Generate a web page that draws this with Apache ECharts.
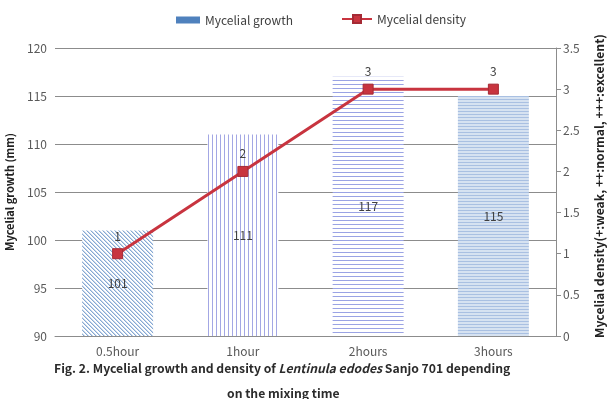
<!DOCTYPE html>
<html>
<head>
<meta charset="utf-8">
<script src="https://cdn.jsdelivr.net/npm/echarts@6/dist/echarts.min.js"></script>
<style>
  html, body { margin: 0; padding: 0; background: #fff; }
  #chart { width: 608px; height: 399px; }
</style>
</head>
<body>
<div id="chart"></div>
<script>
// Mixing time categories and measured values
const categories = ['0.5hour', '1hour', '2hours', '3hours'];
const growthValues = [101, 111, 117, 115];
const densityValues = [1, 2, 3, 3];
const growthTicks = { min: 90, max: 120, interval: 5 };
const densityTicks = { min: 0, max: 3.5, interval: 0.5 };

const FONT = '"Noto Sans CJK KR", "Noto Sans", sans-serif';

// Small repeating tiles used as bar fills
function tile(w, h, bg, draw) {
  const c = document.createElement('canvas');
  c.width = w; c.height = h;
  const ctx = c.getContext('2d');
  ctx.fillStyle = bg;
  ctx.fillRect(0, 0, w, h);
  draw(ctx);
  return { image: c, repeat: 'repeat' };
}

const diagonalFill = tile(4, 4, '#ffffff', ctx => {
  for (let i = 0; i < 4; i++) {
    ctx.fillStyle = '#86A8D2';
    ctx.fillRect(i, i, 1, 1);
    ctx.fillStyle = '#C8D8EC';
    ctx.fillRect((i + 1) % 4, i, 1, 1);
  }
});
const verticalFill = tile(4, 4, '#ffffff', ctx => {
  ctx.fillStyle = '#A3A7E4';
  ctx.fillRect(0, 0, 1, 4);
});
const horizontalFill = tile(4, 4, '#ffffff', ctx => {
  ctx.fillStyle = '#9AA3E4';
  ctx.fillRect(0, 0, 4, 1);
});
const denseFill = tile(4, 3, '#D6E2F1', ctx => {
  ctx.fillStyle = '#A9C0E2';
  ctx.fillRect(0, 0, 4, 1);
});
const barFills = [diagonalFill, verticalFill, horizontalFill, denseFill];

const chart = echarts.init(document.getElementById('chart'), null, { renderer: 'canvas' });

const captionStyle = { fontFamily: FONT, fontWeight: 'bold', fontSize: 12.2, color: '#2b2b2b' };

chart.setOption({
  animation: false,
  textStyle: { fontFamily: FONT },
  title: [
    {
      left: 49,
      top: 357,
      text: '{b|Fig. 2. Mycelial growth and density of }{i|Lentinula edodes}{b| Sanjo 701 depending}',
      textStyle: {
        rich: {
          b: captionStyle,
          i: Object.assign({}, captionStyle, { fontStyle: 'italic' })
        }
      }
    },
    {
      left: 222,
      top: 382,
      text: 'on the mixing time',
      textStyle: captionStyle
    }
  ],
  legend: [
    {
      left: 171, top: 9,
      itemWidth: 24, itemHeight: 7,
      textStyle: { fontSize: 12, color: '#404040', fontFamily: FONT },
      data: [{ name: 'Mycelial growth', icon: 'rect', itemStyle: { color: '#4F81BD' } }]
    },
    {
      left: 336, top: 8,
      itemWidth: 30, itemHeight: 10,
      textStyle: { fontSize: 12, color: '#404040', fontFamily: FONT },
      data: ['Mycelial density']
    }
  ],
  grid: {
    left: 55, right: 52, top: 48, bottom: 63,
    containLabel: false,
    outerBoundsMode: 'none'
  },
  xAxis: {
    type: 'category',
    data: categories,
    axisLine: { show: true, lineStyle: { color: '#8C8C8C' } },
    axisTick: { show: false },
    axisLabel: { color: '#595959', fontSize: 12, margin: 9 }
  },
  yAxis: [
    {
      type: 'value',
      min: growthTicks.min, max: growthTicks.max, interval: growthTicks.interval,
      name: 'Mycelial growth (mm)',
      nameLocation: 'middle',
      nameRotate: 90,
      nameGap: 40,
      nameTextStyle: { fontWeight: 'bold', fontSize: 11, color: '#222222' },
      axisLine: { show: false },
      axisTick: { show: false },
      axisLabel: { color: '#595959', fontSize: 12, margin: 8 },
      splitLine: { show: true, lineStyle: { color: '#8C8C8C', width: 1 } }
    },
    {
      type: 'value',
      position: 'right',
      min: densityTicks.min, max: densityTicks.max, interval: densityTicks.interval,
      name: 'Mycelial density(+:weak, ++:normal, +++:excellent)',
      nameLocation: 'middle',
      nameRotate: 90,
      nameGap: 37,
      nameTextStyle: { fontWeight: 'bold', fontSize: 12.2, color: '#222222', padding: [0, 0, 0, 12] },
      axisLine: { show: true, lineStyle: { color: '#8C8C8C' } },
      axisTick: { show: true, inside: false, length: 5, lineStyle: { color: '#8C8C8C' } },
      axisLabel: { color: '#595959', fontSize: 12, margin: 7 },
      splitLine: { show: false }
    }
  ],
  series: [
    {
      name: 'Mycelial growth',
      type: 'bar',
      yAxisIndex: 0,
      barWidth: 71,
      data: growthValues.map((v, i) => ({ value: v, itemStyle: { color: barFills[i] } })),
      label: {
        show: true,
        position: 'inside',
        color: '#404040',
        fontSize: 12,
        textBorderWidth: 0
      }
    },
    {
      name: 'Mycelial density',
      type: 'line',
      yAxisIndex: 1,
      data: densityValues,
      symbol: 'rect',
      symbolSize: 10,
      lineStyle: { color: '#C8343F', width: 3 },
      itemStyle: { color: '#C8343F', borderColor: '#A52A35', borderWidth: 1 },
      label: {
        show: true,
        position: 'top',
        distance: 6,
        color: '#404040',
        fontSize: 12
      },
      z: 5
    }
  ]
});
</script>
</body>
</html>
